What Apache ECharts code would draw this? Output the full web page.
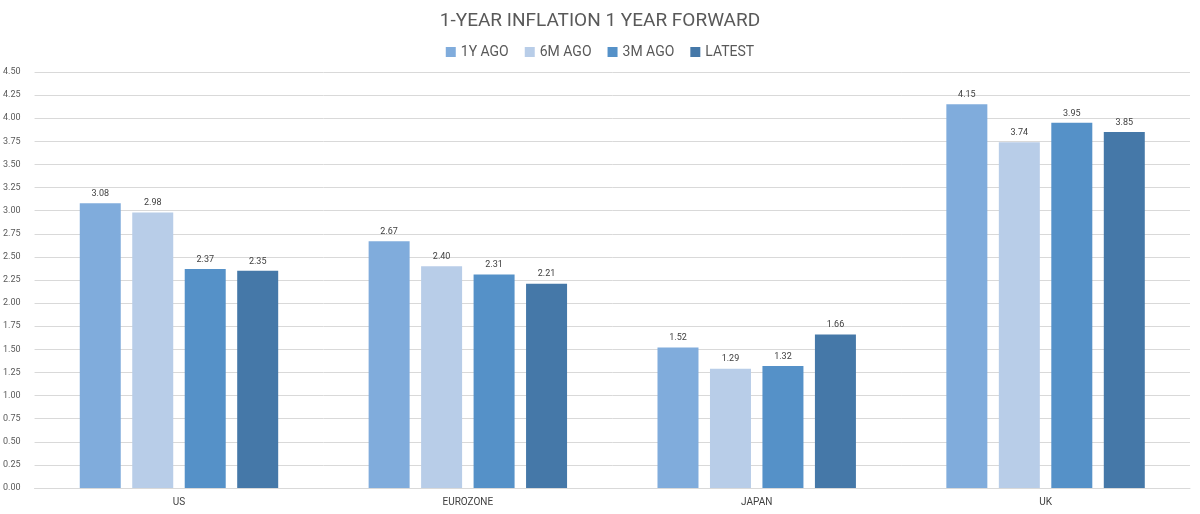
<!DOCTYPE html>
<html><head><meta charset="utf-8">
<script src="https://cdn.jsdelivr.net/npm/echarts@6/dist/echarts.min.js"></script>
<style>html,body{margin:0;padding:0;background:#fff}#c{width:1200px;height:514px}</style>
</head><body><div id="c"></div>
<script>
const categories = ["US", "EUROZONE", "JAPAN", "UK"];
const seriesNames = ["1Y AGO", "6M AGO", "3M AGO", "LATEST"];
const oneYearAgo = [3.08, 2.67, 1.52, 4.15];
const sixMonthsAgo = [2.98, 2.40, 1.29, 3.74];
const threeMonthsAgo = [2.37, 2.31, 1.32, 3.95];
const latest = [2.35, 2.21, 1.66, 3.85];
const colors = ["#80ACDC", "#B8CDE8", "#5591C8", "#4578A8"];
const allValues = [oneYearAgo, sixMonthsAgo, threeMonthsAgo, latest];

const font = "Roboto, 'DejaVu Sans', sans-serif";
const chart = echarts.init(document.getElementById('c'));
chart.setOption({
  animation: false,
  title: {
    text: "1-YEAR INFLATION 1 YEAR FORWARD",
    left: 'center', top: 7,
    textStyle: {fontFamily: font, fontSize: 19, fontWeight: 'normal', color: '#595959'}
  },
  legend: {
    top: 40, left: 'center',
    itemWidth: 10, itemHeight: 10, itemGap: 16,
    icon: 'rect',
    textStyle: {fontFamily: font, fontSize: 14, color: '#595959'},
    data: seriesNames
  },
  grid: {left: 33, right: 10, top: 72, bottom: 26},
  xAxis: {
    type: 'category', data: categories,
    axisTick: {show: false},
    axisLine: {lineStyle: {color: '#d9d9d9'}},
    axisLabel: {fontFamily: font, fontSize: 10, color: '#404040', margin: 9}
  },
  yAxis: {
    type: 'value', min: 0, max: 4.5, interval: 0.25,
    axisLabel: {fontFamily: font, fontSize: 9, color: '#595959', formatter: v => v.toFixed(2), margin: 14},
    splitLine: {lineStyle: {color: '#d9d9d9'}},
    axisLine: {show: false}, axisTick: {show: false}
  },
  series: seriesNames.map((n, i) => ({
    name: n, type: 'bar', data: allValues[i],
    barWidth: 41, barGap: '28%',
    itemStyle: {color: colors[i]},
    label: {show: true, position: 'top', distance: 5, fontFamily: font, fontSize: 9, color: '#404040', formatter: p => p.value.toFixed(2)}
  }))
});
</script></body></html>
